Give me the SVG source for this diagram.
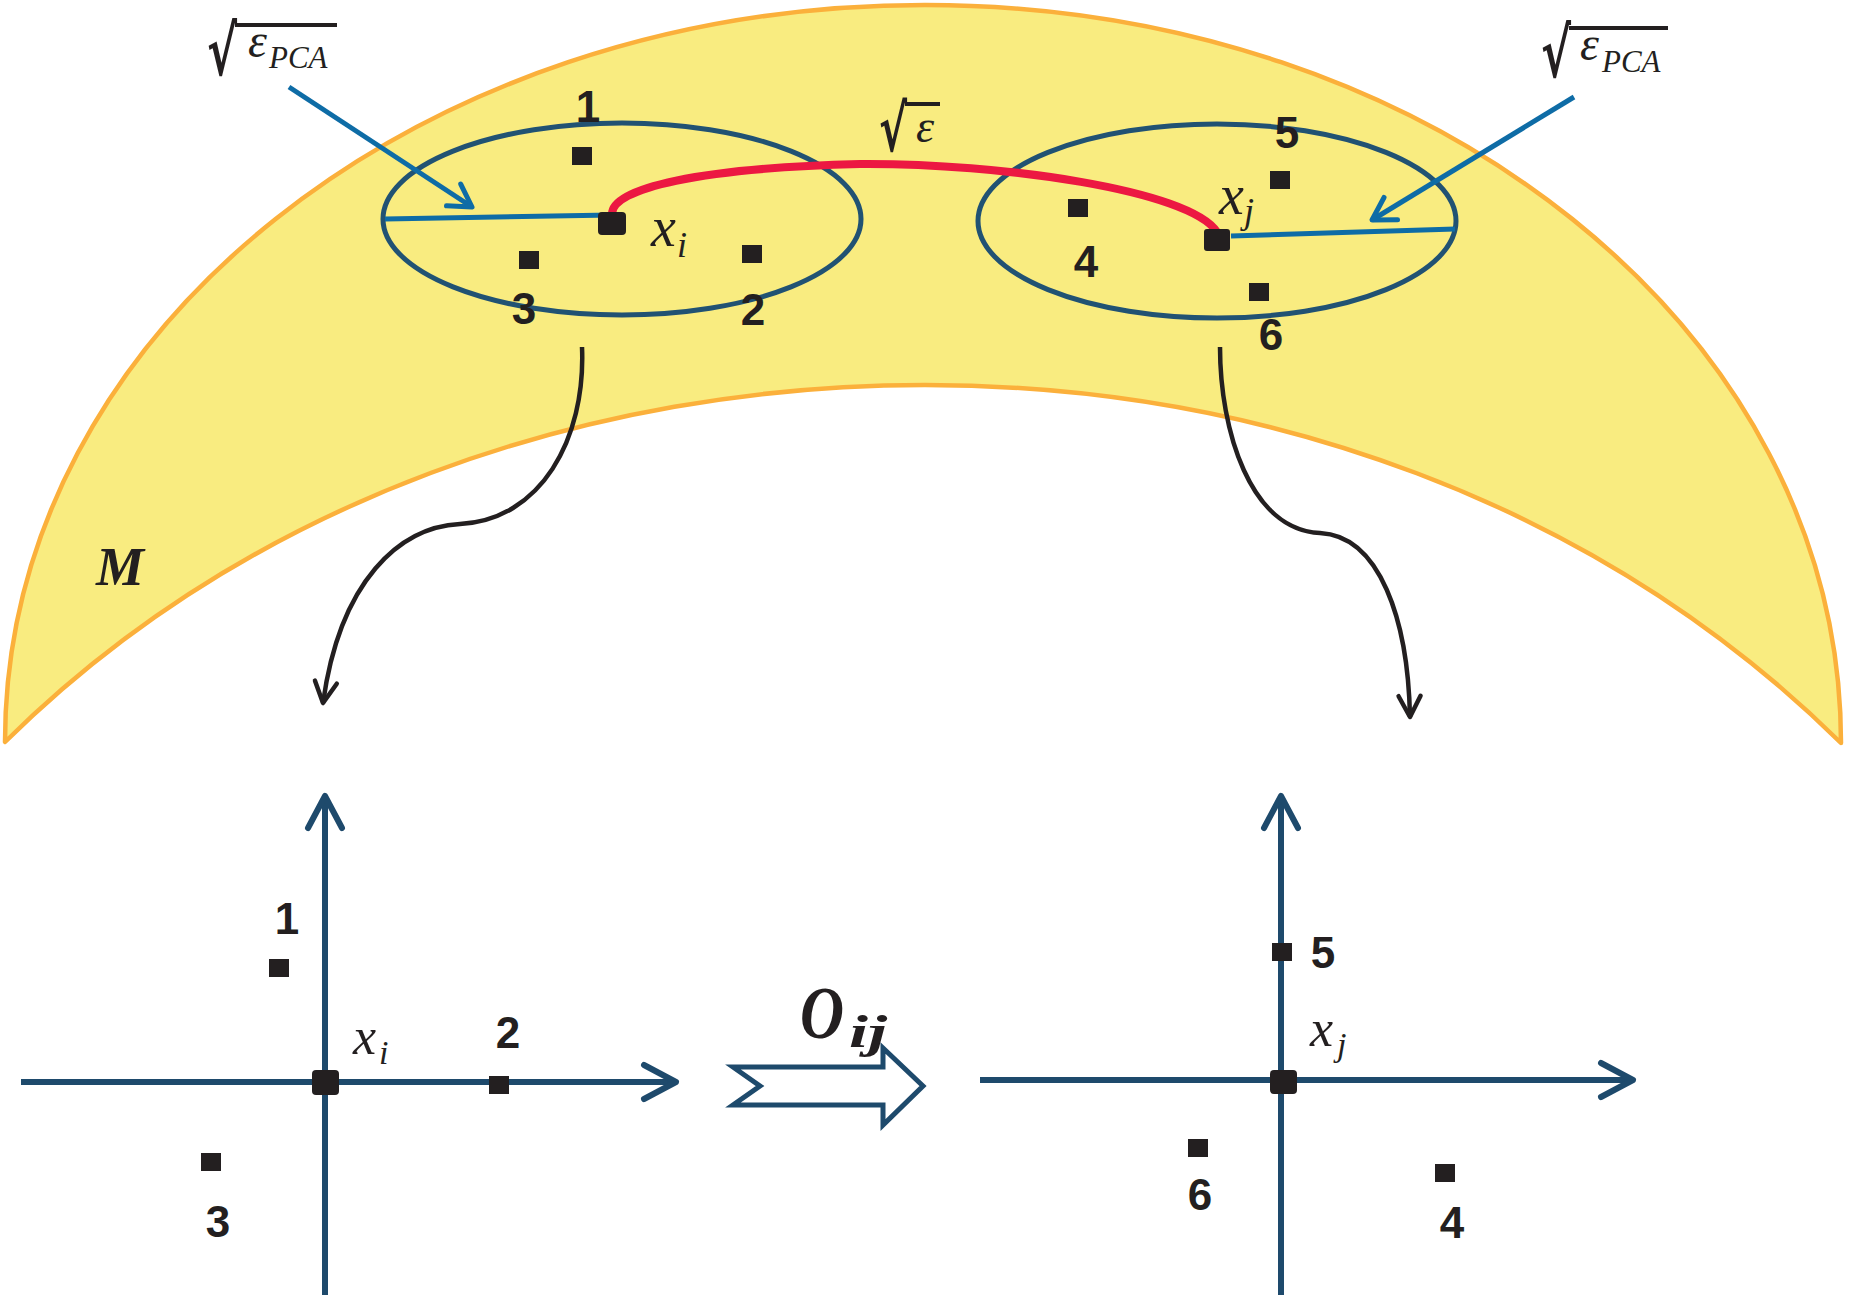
<svg xmlns="http://www.w3.org/2000/svg" width="1858" height="1314" viewBox="0 0 1858 1314">
<defs>
<style>
.pt{fill:#231f20}
.num{font-family:'Liberation Sans Narrow','Liberation Sans',sans-serif;font-weight:bold;font-size:44px;fill:#231f20;text-anchor:middle}
.math{font-family:'Liberation Serif','DejaVu Serif',serif;font-style:italic;fill:#231f20}
.rad{font-family:'DejaVu Sans','Liberation Serif',sans-serif;font-weight:bold;fill:#231f20}
.ell{fill:none;stroke:#215273;stroke-width:5}
.blue{fill:none;stroke:#0e6ca6;stroke-width:5}
.axis{fill:none;stroke:#1e4a6c;stroke-width:6}
.conn{fill:none;stroke:#231f20;stroke-width:4.5}
.bar{stroke:#231f20;stroke-width:4}
</style>
<marker id="ah-blue" markerUnits="userSpaceOnUse" markerWidth="40" markerHeight="40" refX="26" refY="20" orient="auto" overflow="visible">
<path d="M4,7 L26,20 L4,33" fill="none" stroke="#0e6ca6" stroke-width="5" stroke-linecap="round" stroke-linejoin="round"/>
</marker>
<marker id="ah-black" markerUnits="userSpaceOnUse" markerWidth="40" markerHeight="40" refX="26" refY="20" orient="auto" overflow="visible">
<path d="M5,9 L26,20 L5,31" fill="none" stroke="#231f20" stroke-width="4.5" stroke-linecap="round" stroke-linejoin="round"/>
</marker>
<marker id="ah-axis" markerUnits="userSpaceOnUse" markerWidth="50" markerHeight="50" refX="36" refY="25" orient="auto" overflow="visible">
<path d="M4,8 L36,25 L4,42" fill="none" stroke="#1e4a6c" stroke-width="6" stroke-linecap="round" stroke-linejoin="round"/>
</marker>
</defs>
<rect width="1858" height="1314" fill="#ffffff"/>

<g id="manifold">
<path d="M5,742 C5,330 420,5 925,5 C1430,5 1841,330 1841,743 C1596,501 1260,385 925,385 C590,385 250,500 5,742 Z" fill="#f9ec80" stroke="#fbb03b" stroke-width="4.5" stroke-linejoin="round"/>
<text x="96" y="585" font-family="'Liberation Serif',serif" font-weight="bold" font-style="italic" font-size="54" fill="#231f20">M</text>
</g>

<g id="ball-i">
<ellipse class="ell" cx="622" cy="219" rx="239" ry="96"/>
</g>
<g id="ball-j">
<ellipse class="ell" cx="1217" cy="221" rx="239" ry="97"/>
</g>

<g id="connectors">
<line class="blue" x1="385" y1="219" x2="612" y2="215"/>
<line class="blue" x1="1231" y1="236" x2="1455" y2="229"/>
<line class="blue" x1="289" y1="87" x2="472" y2="207" marker-end="url(#ah-blue)"/>
<line class="blue" x1="1574" y1="97" x2="1372" y2="220" marker-end="url(#ah-blue)"/>
<path d="M612,214 C612,188 700,168 860,164 C1000,163 1190,190 1217,232" fill="none" stroke="#ec1842" stroke-width="8" stroke-linecap="round"/>
<path class="conn" d="M582,347 C586,440 540,520 460,524 C400,527 340,580 323,703" marker-end="url(#ah-black)"/>
<path class="conn" d="M1220,347 C1220,430 1250,530 1320,533 C1380,536 1408,620 1410,717" marker-end="url(#ah-black)"/>
<polygon points="733,1067 883,1067 883,1048 923,1086 883,1125 883,1105 733,1105 760,1086" fill="#ffffff" stroke="#1e4a6c" stroke-width="5" stroke-linejoin="miter"/>
</g>

<g id="points-top">
<rect class="pt" x="572" y="147" width="20" height="18"/>
<rect class="pt" x="519" y="251" width="20" height="18"/>
<rect class="pt" x="742" y="245" width="20" height="18"/>
<rect class="pt" x="598" y="212" width="28" height="23" rx="4"/>
<rect class="pt" x="1270" y="171" width="20" height="18"/>
<rect class="pt" x="1068" y="199" width="20" height="18"/>
<rect class="pt" x="1249" y="283" width="20" height="18"/>
<rect class="pt" x="1204" y="229" width="26" height="22" rx="3"/>
<text class="num" x="588" y="122">1</text>
<text class="num" x="524" y="324">3</text>
<text class="num" x="753" y="325">2</text>
<text class="num" x="1287" y="148">5</text>
<text class="num" x="1086" y="277">4</text>
<text class="num" x="1271" y="350">6</text>
<text class="math" x="651" y="246" font-size="56">x</text>
<text class="math" x="677" y="257" font-size="36">i</text>
<text class="math" x="1219" y="214" font-size="56">x</text>
<text class="math" x="1244" y="223" font-size="36">j</text>
</g>

<g id="label-eps-pca-left">
<text class="rad" x="207" y="75" font-size="68" textLength="30" lengthAdjust="spacingAndGlyphs">√</text>
<line class="bar" x1="235" y1="25" x2="337" y2="25"/>
<text class="math" x="248" y="57" font-size="48">ε</text>
<text class="math" x="269" y="68" font-size="31">PCA</text>
</g>
<g id="label-eps-pca-right">
<text class="rad" x="1541" y="77" font-size="68" textLength="30" lengthAdjust="spacingAndGlyphs">√</text>
<line class="bar" x1="1569" y1="28" x2="1668" y2="28"/>
<text class="math" x="1580" y="60" font-size="48">ε</text>
<text class="math" x="1602" y="72" font-size="31">PCA</text>
</g>
<g id="label-eps">
<text class="rad" x="879" y="151" font-size="64" textLength="28" lengthAdjust="spacingAndGlyphs">√</text>
<line class="bar" x1="905" y1="104" x2="940" y2="104"/>
<text class="math" x="916" y="142" font-size="46">ε</text>
</g>

<g id="frame-i">
<line class="axis" x1="21" y1="1082" x2="676" y2="1082" marker-end="url(#ah-axis)"/>
<line class="axis" x1="325" y1="1295" x2="325" y2="796" marker-end="url(#ah-axis)"/>
<rect class="pt" x="312" y="1070" width="27" height="25" rx="4"/>
<rect class="pt" x="269" y="959" width="20" height="18"/>
<rect class="pt" x="489" y="1076" width="20" height="18"/>
<rect class="pt" x="201" y="1153" width="20" height="18"/>
<text class="num" x="287" y="934">1</text>
<text class="num" x="508" y="1048">2</text>
<text class="num" x="218" y="1237">3</text>
<text class="math" x="353" y="1054" font-size="52">x</text>
<text class="math" x="379" y="1064" font-size="34">i</text>
</g>

<g id="rotation">
<text class="math" x="800" y="1038" font-size="74" font-weight="bold" textLength="44" lengthAdjust="spacingAndGlyphs">O</text>
<text class="math" x="849" y="1047" font-size="46" font-weight="bold" textLength="38" lengthAdjust="spacingAndGlyphs">ij</text>
</g>

<g id="frame-j">
<line class="axis" x1="980" y1="1080" x2="1633" y2="1080" marker-end="url(#ah-axis)"/>
<line class="axis" x1="1281" y1="1295" x2="1281" y2="796" marker-end="url(#ah-axis)"/>
<rect class="pt" x="1270" y="1070" width="27" height="24" rx="4"/>
<rect class="pt" x="1272" y="943" width="20" height="18"/>
<rect class="pt" x="1188" y="1139" width="20" height="18"/>
<rect class="pt" x="1435" y="1164" width="20" height="18"/>
<text class="num" x="1323" y="968">5</text>
<text class="num" x="1200" y="1210">6</text>
<text class="num" x="1452" y="1238">4</text>
<text class="math" x="1310" y="1046" font-size="52">x</text>
<text class="math" x="1337" y="1056" font-size="34">j</text>
</g>
</svg>
